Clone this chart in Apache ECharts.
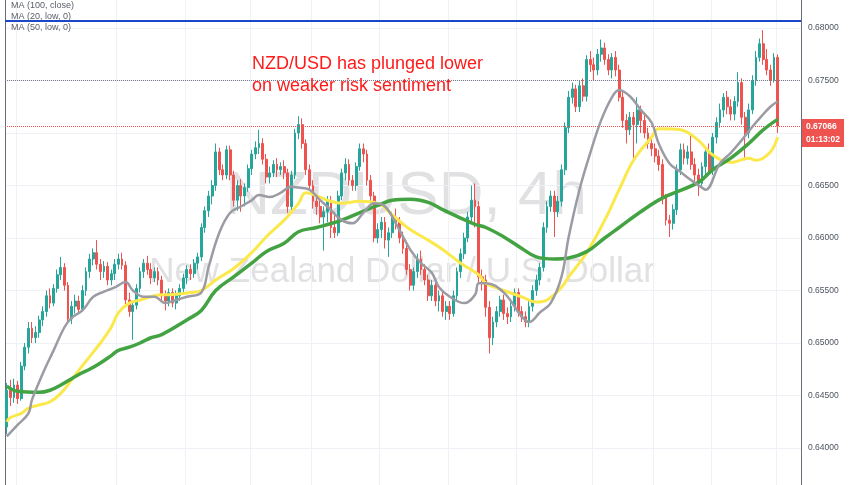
<!DOCTYPE html>
<html>
<head>
<meta charset="utf-8">
<script src="https://cdn.jsdelivr.net/npm/echarts@6/dist/echarts.min.js"></script>
<style>
html,body{margin:0;padding:0;background:#fff;}
#chart{width:852px;height:485px;}
</style>
</head>
<body>
<div id="chart"></div>
<script>
// OHLC candles, ECharts order: [open, close, low, high]
const candles = [
[0.6420,0.6455,0.6413,0.6462],[0.6455,0.6448,0.6440,0.6465],[0.6448,0.6460,0.6443,0.6466],[0.6460,0.6447,0.6442,0.6464],
[0.6447,0.6478,0.6445,0.6482],[0.6478,0.6496,0.6474,0.6500],[0.6496,0.6514,0.6490,0.6520],[0.6514,0.6505,0.6500,0.6520],
[0.6505,0.6510,0.6500,0.6516],[0.6510,0.6522,0.6505,0.6526],[0.6522,0.6530,0.6516,0.6535],[0.6530,0.6545,0.6525,0.6550],
[0.6545,0.6538,0.6533,0.6552],[0.6538,0.6552,0.6535,0.6556],[0.6552,0.6565,0.6548,0.6570],[0.6565,0.6572,0.6560,0.6582],
[0.6572,0.6555,0.6550,0.6576],[0.6555,0.6523,0.6518,0.6558],[0.6523,0.6535,0.6518,0.6540],[0.6535,0.6540,0.6528,0.6546],
[0.6540,0.6532,0.6528,0.6545],[0.6532,0.6550,0.6530,0.6555],[0.6550,0.6568,0.6545,0.6572],[0.6568,0.6580,0.6562,0.6585],
[0.6580,0.6586,0.6574,0.6590],[0.6586,0.6575,0.6570,0.6598],[0.6575,0.6568,0.6560,0.6580],[0.6568,0.6573,0.6562,0.6578],
[0.6573,0.6560,0.6555,0.6577],[0.6560,0.6566,0.6555,0.6570],[0.6566,0.6575,0.6560,0.6580],[0.6575,0.6580,0.6570,0.6585],
[0.6580,0.6574,0.6570,0.6586],[0.6574,0.6541,0.6536,0.6578],[0.6541,0.6530,0.6525,0.6548],[0.6530,0.6536,0.6503,0.6540],
[0.6536,0.6552,0.6532,0.6556],[0.6552,0.6568,0.6548,0.6572],[0.6568,0.6576,0.6562,0.6580],[0.6576,0.6570,0.6565,0.6583],
[0.6570,0.6562,0.6556,0.6576],[0.6562,0.6568,0.6558,0.6572],[0.6568,0.6560,0.6555,0.6572],[0.6560,0.6545,0.6540,0.6564],
[0.6545,0.6540,0.6531,0.6550],[0.6540,0.6548,0.6535,0.6552],[0.6548,0.6538,0.6534,0.6552],[0.6538,0.6545,0.6532,0.6550],
[0.6545,0.6552,0.6540,0.6556],[0.6552,0.6562,0.6548,0.6566],[0.6562,0.6570,0.6556,0.6574],[0.6570,0.6566,0.6560,0.6575],
[0.6566,0.6576,0.6562,0.6580],[0.6576,0.6582,0.6570,0.6586],[0.6582,0.6610,0.6578,0.6614],[0.6610,0.6626,0.6605,0.6630],
[0.6626,0.6640,0.6620,0.6645],[0.6640,0.6650,0.6632,0.6655],[0.6650,0.6682,0.6645,0.6690],[0.6682,0.6665,0.6660,0.6686],
[0.6665,0.6660,0.6655,0.6670],[0.6660,0.6684,0.6656,0.6688],[0.6684,0.6660,0.6655,0.6688],[0.6660,0.6636,0.6630,0.6664],
[0.6636,0.6650,0.6626,0.6655],[0.6650,0.6640,0.6625,0.6656],[0.6640,0.6648,0.6630,0.6652],[0.6648,0.6666,0.6644,0.6670],
[0.6666,0.6680,0.6660,0.6684],[0.6680,0.6686,0.6675,0.6692],[0.6686,0.6690,0.6680,0.6703],[0.6690,0.6675,0.6670,0.6695],
[0.6675,0.6658,0.6652,0.6680],[0.6658,0.6662,0.6652,0.6668],[0.6662,0.6670,0.6658,0.6674],[0.6670,0.6665,0.6658,0.6676],
[0.6665,0.6668,0.6660,0.6672],[0.6668,0.6662,0.6656,0.6674],[0.6662,0.6630,0.6624,0.6666],[0.6630,0.6660,0.6626,0.6664],
[0.6660,0.6700,0.6656,0.6704],[0.6700,0.6708,0.6694,0.6716],[0.6708,0.6690,0.6685,0.6714],[0.6690,0.6665,0.6660,0.6694],
[0.6665,0.6650,0.6645,0.6670],[0.6650,0.6635,0.6628,0.6655],[0.6635,0.6630,0.6622,0.6640],[0.6630,0.6620,0.6614,0.6636],
[0.6620,0.6625,0.6588,0.6630],[0.6625,0.6635,0.6615,0.6640],[0.6635,0.6610,0.6600,0.6640],[0.6610,0.6605,0.6600,0.6625],
[0.6605,0.6640,0.6602,0.6645],[0.6640,0.6662,0.6636,0.6666],[0.6662,0.6670,0.6655,0.6676],[0.6670,0.6655,0.6650,0.6675],
[0.6655,0.6650,0.6645,0.6660],[0.6650,0.6668,0.6645,0.6672],[0.6668,0.6685,0.6664,0.6690],[0.6685,0.6680,0.6672,0.6690],
[0.6680,0.6655,0.6650,0.6684],[0.6655,0.6640,0.6635,0.6660],[0.6640,0.6600,0.6596,0.6644],[0.6600,0.6608,0.6595,0.6614],
[0.6608,0.6615,0.6600,0.6620],[0.6615,0.6598,0.6590,0.6620],[0.6598,0.6605,0.6582,0.6610],[0.6605,0.6620,0.6600,0.6625],
[0.6620,0.6615,0.6608,0.6628],[0.6615,0.6600,0.6595,0.6620],[0.6600,0.6590,0.6585,0.6606],[0.6590,0.6570,0.6565,0.6595],
[0.6570,0.6555,0.6550,0.6575],[0.6555,0.6568,0.6550,0.6572],[0.6568,0.6580,0.6562,0.6585],[0.6580,0.6570,0.6565,0.6588],
[0.6570,0.6560,0.6555,0.6575],[0.6560,0.6545,0.6540,0.6565],[0.6545,0.6555,0.6540,0.6560],[0.6555,0.6540,0.6535,0.6560],
[0.6540,0.6545,0.6530,0.6550],[0.6545,0.6530,0.6525,0.6550],[0.6530,0.6535,0.6522,0.6540],[0.6535,0.6528,0.6522,0.6540],
[0.6528,0.6545,0.6525,0.6550],[0.6545,0.6568,0.6540,0.6572],[0.6568,0.6585,0.6562,0.6590],[0.6585,0.6600,0.6580,0.6605],
[0.6600,0.6620,0.6596,0.6625],[0.6620,0.6636,0.6615,0.6650],[0.6636,0.6630,0.6610,0.6652],[0.6630,0.6563,0.6558,0.6635],
[0.6563,0.6560,0.6550,0.6570],[0.6560,0.6534,0.6525,0.6565],[0.6534,0.6505,0.6490,0.6540],[0.6505,0.6520,0.6498,0.6525],
[0.6520,0.6530,0.6515,0.6535],[0.6530,0.6541,0.6525,0.6545],[0.6541,0.6528,0.6522,0.6546],[0.6528,0.6525,0.6518,0.6534],
[0.6525,0.6535,0.6520,0.6540],[0.6535,0.6548,0.6530,0.6552],[0.6548,0.6530,0.6525,0.6552],[0.6530,0.6525,0.6520,0.6535],
[0.6525,0.6520,0.6515,0.6530],[0.6520,0.6535,0.6515,0.6540],[0.6535,0.6550,0.6530,0.6555],[0.6550,0.6560,0.6545,0.6565],
[0.6560,0.6572,0.6555,0.6576],[0.6572,0.6610,0.6568,0.6615],[0.6610,0.6630,0.6605,0.6635],[0.6630,0.6640,0.6625,0.6645],
[0.6640,0.6625,0.6601,0.6645],[0.6625,0.6635,0.6620,0.6640],[0.6635,0.6665,0.6630,0.6670],[0.6665,0.6705,0.6660,0.6710],
[0.6705,0.6734,0.6700,0.6740],[0.6734,0.6742,0.6728,0.6748],[0.6742,0.6725,0.6720,0.6746],[0.6725,0.6745,0.6720,0.6750],
[0.6745,0.6735,0.6730,0.6752],[0.6735,0.6770,0.6730,0.6774],[0.6770,0.6765,0.6758,0.6778],[0.6765,0.6760,0.6750,0.6772],
[0.6760,0.6775,0.6755,0.6780],[0.6775,0.6781,0.6768,0.6789],[0.6781,0.6770,0.6765,0.6786],[0.6770,0.6760,0.6755,0.6775],
[0.6760,0.6772,0.6752,0.6776],[0.6772,0.6760,0.6754,0.6778],[0.6760,0.6734,0.6730,0.6765],[0.6734,0.6712,0.6705,0.6740],
[0.6712,0.6703,0.6690,0.6718],[0.6703,0.6715,0.6698,0.6720],[0.6715,0.6708,0.6672,0.6720],[0.6708,0.6722,0.6690,0.6734],
[0.6722,0.6712,0.6700,0.6726],[0.6712,0.6700,0.6695,0.6718],[0.6700,0.6690,0.6685,0.6705],[0.6690,0.6685,0.6678,0.6695],
[0.6685,0.6678,0.6672,0.6690],[0.6678,0.6670,0.6664,0.6684],[0.6670,0.6638,0.6632,0.6675],[0.6638,0.6617,0.6612,0.6642],
[0.6617,0.6614,0.6601,0.6622],[0.6614,0.6627,0.6608,0.6632],[0.6627,0.6665,0.6622,0.6670],[0.6665,0.6684,0.6660,0.6690],
[0.6684,0.6676,0.6670,0.6690],[0.6676,0.6682,0.6670,0.6688],[0.6682,0.6670,0.6665,0.6700],[0.6670,0.6660,0.6650,0.6676],
[0.6660,0.6652,0.6640,0.6666],[0.6652,0.6668,0.6648,0.6672],[0.6668,0.6682,0.6660,0.6686],[0.6682,0.6665,0.6660,0.6690],
[0.6665,0.6696,0.6660,0.6700],[0.6696,0.6710,0.6690,0.6715],[0.6710,0.6722,0.6705,0.6728],[0.6722,0.6734,0.6715,0.6738],
[0.6734,0.6725,0.6718,0.6740],[0.6725,0.6718,0.6712,0.6732],[0.6718,0.6730,0.6712,0.6735],[0.6730,0.6748,0.6725,0.6758],
[0.6748,0.6715,0.6708,0.6752],[0.6715,0.6700,0.6674,0.6720],[0.6700,0.6722,0.6695,0.6728],[0.6722,0.6750,0.6718,0.6755],
[0.6750,0.6772,0.6745,0.6778],[0.6772,0.6785,0.6768,0.6790],[0.6785,0.6770,0.6765,0.6798],[0.6770,0.6760,0.6755,0.6780],
[0.6760,0.6750,0.6745,0.6765],[0.6750,0.6772,0.6748,0.6776],[0.6772,0.67066,0.6700,0.6775]
];

// Moving averages: [candle index, value]
const ma100Close = [[0,0.6459],[3,0.6454],[9,0.6453],[12,0.6455],[15,0.6460],[18,0.6466],[20,0.6470],[23,0.6475],[26,0.6481],[29,0.6488],[31,0.6493],[34,0.6496],[37,0.6500],[40,0.6505],[43,0.6508],[50,0.6522],[54,0.6531],[58,0.6550],[63,0.6563],[68,0.6576],[72,0.6587],[77,0.6595],[81,0.6606],[86,0.6610],[93,0.6617],[100,0.6627],[103,0.6631],[107,0.6636],[112,0.6637],[117,0.6634],[121,0.6627],[126,0.6619],[130,0.6613],[133,0.6610],[138,0.6601],[143,0.6590],[147,0.6582],[152,0.6580],[156,0.6581],[161,0.6587],[166,0.6600],[170,0.6610],[176,0.6625],[182,0.6638],[192,0.6653],[196,0.6665],[201,0.6676],[206,0.6690],[210,0.6703],[214,0.6713]];
const ma20Low = [[0,0.6411],[3,0.6422],[6,0.6433],[7,0.6446],[10,0.6471],[13,0.6493],[16,0.6515],[18,0.6524],[21,0.6531],[24,0.6544],[27,0.6549],[30,0.6553],[33,0.6558],[35,0.6550],[38,0.6544],[41,0.6544],[44,0.6538],[47,0.6541],[50,0.6544],[54,0.6548],[56,0.6572],[59,0.6605],[62,0.6624],[65,0.6630],[68,0.6636],[70,0.6641],[73,0.6639],[76,0.6643],[79,0.6649],[81,0.6648],[84,0.6646],[87,0.6636],[89,0.6630],[93,0.6617],[96,0.6614],[99,0.6624],[102,0.6633],[105,0.6630],[108,0.6614],[112,0.6589],[115,0.6576],[118,0.6567],[120,0.6553],[123,0.6544],[127,0.6538],[130,0.6546],[131,0.6557],[133,0.6557],[138,0.6548],[143,0.6525],[145,0.6520],[148,0.6529],[151,0.6538],[154,0.6563],[156,0.6601],[159,0.6646],[162,0.6681],[165,0.6712],[168,0.6734],[170,0.6741],[173,0.6735],[176,0.6722],[179,0.6710],[181,0.6690],[184,0.6671],[187,0.6663],[190,0.6655],[193,0.6648],[194,0.6646],[198,0.6671],[201,0.6681],[204,0.6693],[207,0.6706],[209,0.6714],[212,0.6725],[214,0.6730]];
const ma50Low = [[0,0.6425],[1,0.6429],[4,0.6433],[6,0.6438],[9,0.6441],[12,0.6444],[15,0.6452],[18,0.6465],[20,0.6474],[23,0.6487],[26,0.6500],[29,0.6515],[31,0.6529],[34,0.6538],[37,0.6541],[40,0.6544],[43,0.6546],[45,0.6546],[51,0.6548],[54,0.6550],[58,0.6560],[63,0.6571],[68,0.6586],[72,0.6601],[77,0.6617],[81,0.6633],[83,0.6643],[87,0.6639],[89,0.6636],[93,0.6633],[98,0.6635],[103,0.6633],[107,0.6622],[112,0.6608],[117,0.6598],[121,0.6589],[126,0.6576],[131,0.6565],[133,0.6557],[138,0.6550],[143,0.6544],[147,0.6539],[150,0.6541],[154,0.6553],[156,0.6563],[161,0.6586],[166,0.6617],[170,0.6646],[174,0.6674],[179,0.6696],[181,0.6704],[187,0.6703],[192,0.6693],[196,0.6679],[201,0.6672],[206,0.6676],[208,0.6674],[212,0.6682],[214,0.6696]];

// horizontal levels
const resistanceLevel = 0.68067;
const dottedLevel = 0.675;
const lastPrice = 0.67066;
const lastPriceText = '0.67066';
const countdownText = '01:13:02';
// price axis ticks
const priceMin = 0.635, priceMax = 0.685, priceStep = 0.005;
// indices of the vertical time grid lines
const timeGridIdx = [3, 31, 50, 68, 85, 104, 123, 142, 163, 180, 196, 214];
const emptySlots = 6;
const categories = [];
for (let i = 0; i < candles.length + emptySlots; i++) categories.push(String(i));

const legendTexts = ['MA (100, close)', 'MA (20, low, 0)', 'MA (50, low, 0)'];
const watermark1 = 'NZDUSD, 4h';
const watermark2 = 'New Zealand Dollar / U.S. Dollar';
const noteLines = ['NZD/USD has plunged lower', 'on weaker risk sentiment'];

const FONT = '"Liberation Sans", Arial, sans-serif';
const chart = echarts.init(document.getElementById('chart'), null, {renderer: 'canvas'});
const gridSet = new Set(timeGridIdx);

const option = {
  animation: false,
  backgroundColor: '#ffffff',
  title: legendTexts.map((t, k) => ({
    text: t, left: 11, top: 1 + k * 11, padding: 0,
    textStyle: {fontSize: 9, fontWeight: 'normal', color: '#5d606b', fontFamily: FONT}
  })),
  graphic: [
    {type: 'text', z: -1, style: {text: watermark1, x: 406, y: 197, align: 'center', verticalAlign: 'middle', textAlign: 'center', textVerticalAlign: 'middle', fontSize: 62, fontFamily: FONT, fill: '#e1e1e3'}},
    {type: 'text', z: -1, style: {text: watermark2, x: 402, y: 272, align: 'center', verticalAlign: 'middle', textAlign: 'center', textVerticalAlign: 'middle', fontSize: 35, fontFamily: FONT, fill: '#e1e1e3'}},
    {type: 'text', z: 50, style: {text: noteLines.join('\n'), x: 252, y: 53, fontSize: 18, lineHeight: 22, fontFamily: FONT, fill: '#ff1a1a'}}
  ],
  grid: {left: 5, right: 51, top: -24.5, bottom: -15.5, containLabel: false, outerBoundsMode: 'none'},
  xAxis: {
    type: 'category', data: categories, boundaryGap: true,
    axisLine: {show: false}, axisTick: {show: false}, axisLabel: {show: false},
    splitLine: {show: true, interval: (idx) => gridSet.has(idx), lineStyle: {color: '#eef1f6', width: 1}}
  },
  yAxis: [
    {
      type: 'value', position: 'right', min: priceMin, max: priceMax, interval: priceStep, scale: true,
      axisLine: {show: true, lineStyle: {color: '#6a6d78', width: 1}},
      axisTick: {show: false},
      axisLabel: {show: true, margin: 7, fontSize: 8.5, color: '#4c525e', fontFamily: FONT, formatter: v => v.toFixed(5)},
      splitLine: {show: true, lineStyle: {color: '#eef1f6', width: 1}}
    },
    {
      type: 'value', position: 'left', min: priceMin, max: priceMax, interval: priceStep,
      axisLine: {show: true, lineStyle: {color: '#6a6d78', width: 1}},
      axisTick: {show: false}, axisLabel: {show: false}, splitLine: {show: false}
    }
  ],
  series: [
    {
      type: 'candlestick', name: 'NZDUSD', data: candles, barWidth: '65%', z: 3,
      itemStyle: {color: '#26a69a', color0: '#ef5350', borderColor: '#26a69a', borderColor0: '#ef5350', borderWidth: 1},
      markLine: {
        silent: true, symbol: ['none', 'none'], animation: false, precision: 5,
        data: [
          {yAxis: resistanceLevel, lineStyle: {color: '#1a47c9', width: 2, type: 'solid'}, label: {show: false}},
          {yAxis: dottedLevel, lineStyle: {color: '#787b86', width: 1, type: 'dotted'}, label: {show: false}},
          {yAxis: lastPrice, lineStyle: {color: '#ef5350', width: 1, type: 'dotted'},
           label: {show: true, position: 'end', distance: 1, formatter: lastPriceText + '\n' + countdownText,
                   backgroundColor: '#ef5350', color: '#ffffff', fontSize: 8.5, fontFamily: FONT, fontWeight: 'bold',
                   lineHeight: 13, padding: [1, 4, 1, 4], offset: [0, 7]}}
        ]
      }
    },
    {type: 'line', name: 'MA50', data: ma50Low, smooth: 0.4, showSymbol: false, z: 4,
     lineStyle: {color: '#fbe94c', width: 3}},
    {type: 'line', name: 'MA100', data: ma100Close, smooth: 0.4, showSymbol: false, z: 5,
     lineStyle: {color: '#43a343', width: 3.5}},
    {type: 'line', name: 'MA20', data: ma20Low, smooth: 0.4, showSymbol: false, z: 6,
     lineStyle: {color: '#9b9ba3', width: 2.5}}
  ]
};
chart.setOption(option);
</script>
</body>
</html>
